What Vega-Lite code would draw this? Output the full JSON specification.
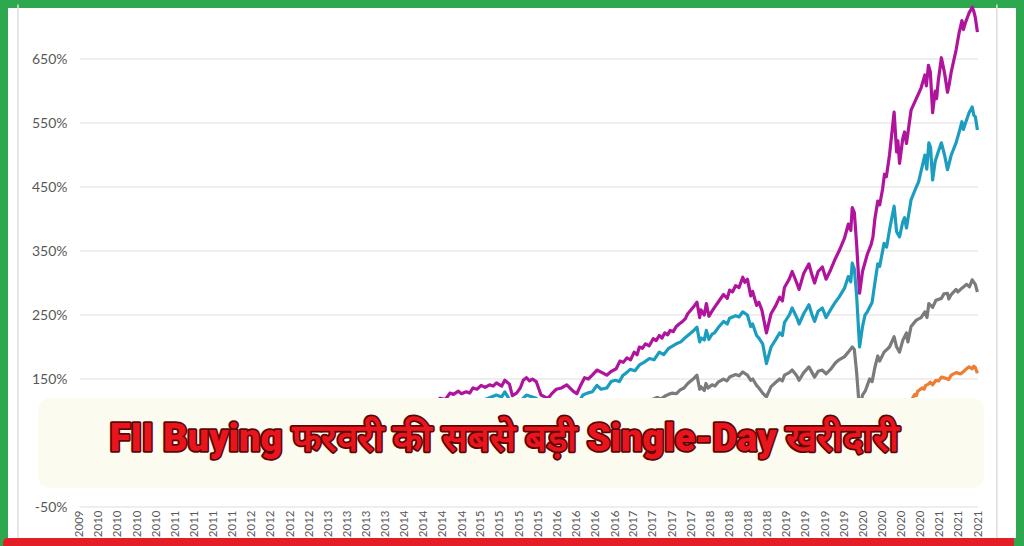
{
  "$schema": "https://vega.github.io/schema/vega-lite/v6.json",
  "width": 1024,
  "height": 546,
  "autosize": {"type": "none"},
  "padding": 0,
  "background": "white",
  "config": {
    "view": {"stroke": "#2ea84e", "strokeWidth": 16, "fill": "white"},
    "font": "Lato"
  },
  "resolve": {"axis": {"x": "independent", "y": "independent"}},
  "datasets": {
    "grid": [{"v": -50}, {"v": 50}, {"v": 150}, {"v": 250}, {"v": 350}, {"v": 450}, {"v": 550}, {"v": 650}],
    "series": [
      {"s":"S4","d":"2010-01-01","v":0},{"s":"S4","d":"2010-04-19","v":4},{"s":"S4","d":"2010-06-13","v":-6},{"s":"S4","d":"2010-08-07","v":-4},{"s":"S4","d":"2010-10-19","v":8},{"s":"S4","d":"2011-01-01","v":12},{"s":"S4","d":"2011-04-19","v":14},{"s":"S4","d":"2011-08-07","v":-4},{"s":"S4","d":"2011-10-19","v":0},{"s":"S4","d":"2012-01-01","v":6},{"s":"S4","d":"2012-04-19","v":12},{"s":"S4","d":"2012-07-01","v":6},{"s":"S4","d":"2012-10-19","v":14},{"s":"S4","d":"2013-01-01","v":18},{"s":"S4","d":"2013-04-19","v":24},{"s":"S4","d":"2013-07-01","v":20},{"s":"S4","d":"2013-10-19","v":28},{"s":"S4","d":"2014-01-01","v":30},{"s":"S4","d":"2014-04-19","v":36},{"s":"S4","d":"2014-08-07","v":40},{"s":"S4","d":"2014-11-25","v":42},{"s":"S4","d":"2015-03-13","v":46},{"s":"S4","d":"2015-07-01","v":44},{"s":"S4","d":"2015-08-25","v":30},{"s":"S4","d":"2015-11-25","v":34},{"s":"S4","d":"2016-02-07","v":22},{"s":"S4","d":"2016-05-25","v":32},{"s":"S4","d":"2016-09-13","v":36},{"s":"S4","d":"2016-11-25","v":40},{"s":"S4","d":"2017-03-13","v":48},{"s":"S4","d":"2017-07-01","v":54},{"s":"S4","d":"2017-10-19","v":60},{"s":"S4","d":"2018-01-19","v":66},{"s":"S4","d":"2018-02-25","v":56},{"s":"S4","d":"2018-07-01","v":60},{"s":"S4","d":"2018-10-01","v":58},{"s":"S4","d":"2018-12-24","v":44},{"s":"S4","d":"2019-04-19","v":56},{"s":"S4","d":"2019-08-07","v":60},{"s":"S4","d":"2019-11-25","v":68},{"s":"S4","d":"2020-02-07","v":72},{"s":"S4","d":"2020-03-13","v":30},{"s":"S4","d":"2020-05-25","v":56},{"s":"S4","d":"2020-08-07","v":78},{"s":"S4","d":"2020-09-13","v":90},{"s":"S4","d":"2020-10-19","v":104},{"s":"S4","d":"2020-11-14","v":116},{"s":"S4","d":"2020-11-25","v":122},{"s":"S4","d":"2020-12-02","v":126},{"s":"S4","d":"2020-12-09","v":124},{"s":"S4","d":"2020-12-16","v":131},{"s":"S4","d":"2020-12-24","v":133},{"s":"S4","d":"2021-01-08","v":136},{"s":"S4","d":"2021-01-15","v":134},{"s":"S4","d":"2021-01-23","v":140},{"s":"S4","d":"2021-02-05","v":142},{"s":"S4","d":"2021-02-14","v":145},{"s":"S4","d":"2021-02-25","v":141},{"s":"S4","d":"2021-03-13","v":148},{"s":"S4","d":"2021-03-25","v":147},{"s":"S4","d":"2021-04-08","v":153},{"s":"S4","d":"2021-04-30","v":151},{"s":"S4","d":"2021-05-12","v":149},{"s":"S4","d":"2021-05-25","v":156},{"s":"S4","d":"2021-06-17","v":160},{"s":"S4","d":"2021-07-08","v":158},{"s":"S4","d":"2021-07-20","v":161},{"s":"S4","d":"2021-07-30","v":164},{"s":"S4","d":"2021-08-18","v":169},{"s":"S4","d":"2021-09-02","v":166},{"s":"S4","d":"2021-09-10","v":170},{"s":"S4","d":"2021-09-17","v":168},{"s":"S4","d":"2021-09-27","v":159},

      {"s":"S3","d":"2010-01-01","v":0},{"s":"S3","d":"2010-04-19","v":6},{"s":"S3","d":"2010-06-13","v":-4},{"s":"S3","d":"2010-08-07","v":-6},{"s":"S3","d":"2010-10-19","v":5},{"s":"S3","d":"2011-01-01","v":10},{"s":"S3","d":"2011-04-19","v":12},{"s":"S3","d":"2011-08-07","v":-8},{"s":"S3","d":"2011-10-19","v":-2},{"s":"S3","d":"2012-01-01","v":4},{"s":"S3","d":"2012-04-01","v":14},{"s":"S3","d":"2012-06-13","v":6},{"s":"S3","d":"2012-09-13","v":16},{"s":"S3","d":"2012-11-25","v":14},{"s":"S3","d":"2013-03-13","v":28},{"s":"S3","d":"2013-07-01","v":34},{"s":"S3","d":"2013-10-19","v":44},{"s":"S3","d":"2014-01-01","v":48},{"s":"S3","d":"2014-04-19","v":54},{"s":"S3","d":"2014-08-07","v":62},{"s":"S3","d":"2014-11-25","v":70},{"s":"S3","d":"2015-03-13","v":78},{"s":"S3","d":"2015-06-13","v":80},{"s":"S3","d":"2015-08-25","v":62},{"s":"S3","d":"2015-11-25","v":70},{"s":"S3","d":"2016-02-07","v":55},{"s":"S3","d":"2016-05-25","v":70},{"s":"S3","d":"2016-08-07","v":75},{"s":"S3","d":"2016-11-25","v":85},{"s":"S3","d":"2017-02-07","v":98},{"s":"S3","d":"2017-04-19","v":108},{"s":"S3","d":"2017-06-13","v":116},{"s":"S3","d":"2017-07-19","v":121},{"s":"S3","d":"2017-08-08","v":119},{"s":"S3","d":"2017-08-25","v":123},{"s":"S3","d":"2017-09-12","v":126},{"s":"S3","d":"2017-10-01","v":128},{"s":"S3","d":"2017-10-20","v":127},{"s":"S3","d":"2017-11-07","v":133},{"s":"S3","d":"2017-11-25","v":136},{"s":"S3","d":"2017-12-13","v":143},{"s":"S3","d":"2018-01-08","v":150},{"s":"S3","d":"2018-01-26","v":156},{"s":"S3","d":"2018-02-08","v":134},{"s":"S3","d":"2018-02-14","v":138},{"s":"S3","d":"2018-03-02","v":132},{"s":"S3","d":"2018-03-10","v":143},{"s":"S3","d":"2018-03-20","v":136},{"s":"S3","d":"2018-04-08","v":141},{"s":"S3","d":"2018-04-22","v":139},{"s":"S3","d":"2018-05-07","v":145},{"s":"S3","d":"2018-06-02","v":150},{"s":"S3","d":"2018-06-18","v":147},{"s":"S3","d":"2018-07-01","v":153},{"s":"S3","d":"2018-07-30","v":157},{"s":"S3","d":"2018-08-15","v":155},{"s":"S3","d":"2018-09-02","v":161},{"s":"S3","d":"2018-09-24","v":156},{"s":"S3","d":"2018-10-10","v":148},{"s":"S3","d":"2018-10-19","v":150},{"s":"S3","d":"2018-11-07","v":140},{"s":"S3","d":"2018-11-18","v":136},{"s":"S3","d":"2018-12-06","v":128},{"s":"S3","d":"2018-12-24","v":122},{"s":"S3","d":"2019-01-15","v":138},{"s":"S3","d":"2019-02-07","v":145},{"s":"S3","d":"2019-02-25","v":150},{"s":"S3","d":"2019-03-10","v":147},{"s":"S3","d":"2019-03-20","v":156},{"s":"S3","d":"2019-04-12","v":160},{"s":"S3","d":"2019-04-26","v":164},{"s":"S3","d":"2019-05-18","v":155},{"s":"S3","d":"2019-05-29","v":148},{"s":"S3","d":"2019-06-20","v":160},{"s":"S3","d":"2019-07-15","v":169},{"s":"S3","d":"2019-07-30","v":160},{"s":"S3","d":"2019-08-11","v":153},{"s":"S3","d":"2019-08-28","v":162},{"s":"S3","d":"2019-09-17","v":164},{"s":"S3","d":"2019-10-05","v":158},{"s":"S3","d":"2019-10-26","v":165},{"s":"S3","d":"2019-11-18","v":175},{"s":"S3","d":"2019-12-06","v":180},{"s":"S3","d":"2020-01-01","v":185},{"s":"S3","d":"2020-01-19","v":192},{"s":"S3","d":"2020-02-07","v":200},{"s":"S3","d":"2020-02-17","v":196},{"s":"S3","d":"2020-02-28","v":160},{"s":"S3","d":"2020-03-13","v":100},{"s":"S3","d":"2020-03-27","v":125},{"s":"S3","d":"2020-04-10","v":132},{"s":"S3","d":"2020-04-19","v":140},{"s":"S3","d":"2020-04-30","v":150},{"s":"S3","d":"2020-05-12","v":146},{"s":"S3","d":"2020-05-25","v":168},{"s":"S3","d":"2020-06-08","v":186},{"s":"S3","d":"2020-06-17","v":178},{"s":"S3","d":"2020-07-08","v":192},{"s":"S3","d":"2020-08-03","v":200},{"s":"S3","d":"2020-08-25","v":216},{"s":"S3","d":"2020-09-06","v":200},{"s":"S3","d":"2020-09-20","v":192},{"s":"S3","d":"2020-10-05","v":210},{"s":"S3","d":"2020-10-23","v":222},{"s":"S3","d":"2020-10-30","v":208},{"s":"S3","d":"2020-11-14","v":232},{"s":"S3","d":"2020-12-09","v":242},{"s":"S3","d":"2021-01-01","v":246},{"s":"S3","d":"2021-01-19","v":255},{"s":"S3","d":"2021-01-29","v":246},{"s":"S3","d":"2021-02-07","v":268},{"s":"S3","d":"2021-02-25","v":262},{"s":"S3","d":"2021-03-13","v":273},{"s":"S3","d":"2021-04-08","v":276},{"s":"S3","d":"2021-04-20","v":283},{"s":"S3","d":"2021-05-07","v":284},{"s":"S3","d":"2021-05-13","v":275},{"s":"S3","d":"2021-05-25","v":282},{"s":"S3","d":"2021-06-17","v":290},{"s":"S3","d":"2021-06-25","v":286},{"s":"S3","d":"2021-07-15","v":292},{"s":"S3","d":"2021-08-07","v":298},{"s":"S3","d":"2021-08-20","v":294},{"s":"S3","d":"2021-09-02","v":305},{"s":"S3","d":"2021-09-17","v":298},{"s":"S3","d":"2021-09-27","v":286},

      {"s":"S2","d":"2010-01-01","v":0},{"s":"S2","d":"2010-04-19","v":10},{"s":"S2","d":"2010-06-13","v":0},{"s":"S2","d":"2010-08-07","v":-2},{"s":"S2","d":"2010-10-19","v":10},{"s":"S2","d":"2011-01-01","v":16},{"s":"S2","d":"2011-04-19","v":20},{"s":"S2","d":"2011-08-07","v":2},{"s":"S2","d":"2011-10-19","v":8},{"s":"S2","d":"2012-01-01","v":14},{"s":"S2","d":"2012-04-01","v":28},{"s":"S2","d":"2012-06-13","v":20},{"s":"S2","d":"2012-09-13","v":32},{"s":"S2","d":"2012-11-25","v":28},{"s":"S2","d":"2013-03-13","v":42},{"s":"S2","d":"2013-07-01","v":52},{"s":"S2","d":"2013-10-19","v":66},{"s":"S2","d":"2014-01-01","v":70},{"s":"S2","d":"2014-04-19","v":78},{"s":"S2","d":"2014-08-07","v":92},{"s":"S2","d":"2014-11-03","v":104},{"s":"S2","d":"2015-02-07","v":112},{"s":"S2","d":"2015-04-19","v":118},{"s":"S2","d":"2015-06-13","v":125},{"s":"S2","d":"2015-07-08","v":122},{"s":"S2","d":"2015-07-23","v":130},{"s":"S2","d":"2015-08-14","v":118},{"s":"S2","d":"2015-09-13","v":108},{"s":"S2","d":"2015-11-03","v":125},{"s":"S2","d":"2015-12-20","v":120},{"s":"S2","d":"2016-02-07","v":100},{"s":"S2","d":"2016-04-19","v":110},{"s":"S2","d":"2016-07-01","v":108},{"s":"S2","d":"2016-07-30","v":125},{"s":"S2","d":"2016-08-20","v":128},{"s":"S2","d":"2016-09-13","v":130},{"s":"S2","d":"2016-10-05","v":140},{"s":"S2","d":"2016-10-25","v":134},{"s":"S2","d":"2016-11-21","v":136},{"s":"S2","d":"2016-12-12","v":146},{"s":"S2","d":"2017-01-01","v":148},{"s":"S2","d":"2017-01-20","v":146},{"s":"S2","d":"2017-02-07","v":156},{"s":"S2","d":"2017-02-24","v":160},{"s":"S2","d":"2017-03-13","v":165},{"s":"S2","d":"2017-04-05","v":163},{"s":"S2","d":"2017-04-26","v":172},{"s":"S2","d":"2017-05-18","v":176},{"s":"S2","d":"2017-06-13","v":182},{"s":"S2","d":"2017-07-05","v":180},{"s":"S2","d":"2017-07-30","v":192},{"s":"S2","d":"2017-08-20","v":188},{"s":"S2","d":"2017-09-13","v":198},{"s":"S2","d":"2017-10-19","v":205},{"s":"S2","d":"2017-11-10","v":208},{"s":"S2","d":"2017-12-02","v":215},{"s":"S2","d":"2018-01-08","v":225},{"s":"S2","d":"2018-01-26","v":231},{"s":"S2","d":"2018-02-08","v":208},{"s":"S2","d":"2018-02-14","v":214},{"s":"S2","d":"2018-03-02","v":211},{"s":"S2","d":"2018-03-12","v":226},{"s":"S2","d":"2018-03-24","v":212},{"s":"S2","d":"2018-04-08","v":220},{"s":"S2","d":"2018-04-20","v":222},{"s":"S2","d":"2018-05-07","v":230},{"s":"S2","d":"2018-06-02","v":240},{"s":"S2","d":"2018-06-20","v":236},{"s":"S2","d":"2018-07-01","v":245},{"s":"S2","d":"2018-07-30","v":249},{"s":"S2","d":"2018-08-15","v":247},{"s":"S2","d":"2018-09-02","v":255},{"s":"S2","d":"2018-09-24","v":250},{"s":"S2","d":"2018-10-10","v":232},{"s":"S2","d":"2018-10-19","v":236},{"s":"S2","d":"2018-11-07","v":218},{"s":"S2","d":"2018-11-18","v":214},{"s":"S2","d":"2018-12-06","v":205},{"s":"S2","d":"2018-12-24","v":174},{"s":"S2","d":"2019-01-15","v":200},{"s":"S2","d":"2019-02-07","v":212},{"s":"S2","d":"2019-02-25","v":222},{"s":"S2","d":"2019-03-10","v":218},{"s":"S2","d":"2019-03-20","v":238},{"s":"S2","d":"2019-04-12","v":250},{"s":"S2","d":"2019-04-26","v":261},{"s":"S2","d":"2019-05-18","v":246},{"s":"S2","d":"2019-05-29","v":236},{"s":"S2","d":"2019-06-20","v":252},{"s":"S2","d":"2019-07-15","v":266},{"s":"S2","d":"2019-07-30","v":250},{"s":"S2","d":"2019-08-11","v":240},{"s":"S2","d":"2019-08-28","v":256},{"s":"S2","d":"2019-09-17","v":261},{"s":"S2","d":"2019-10-05","v":246},{"s":"S2","d":"2019-10-26","v":258},{"s":"S2","d":"2019-11-18","v":270},{"s":"S2","d":"2019-12-06","v":278},{"s":"S2","d":"2020-01-01","v":292},{"s":"S2","d":"2020-01-19","v":310},{"s":"S2","d":"2020-01-31","v":302},{"s":"S2","d":"2020-02-07","v":331},{"s":"S2","d":"2020-02-17","v":322},{"s":"S2","d":"2020-02-28","v":280},{"s":"S2","d":"2020-03-13","v":200},{"s":"S2","d":"2020-03-27","v":232},{"s":"S2","d":"2020-04-08","v":250},{"s":"S2","d":"2020-04-19","v":255},{"s":"S2","d":"2020-04-30","v":262},{"s":"S2","d":"2020-05-12","v":270},{"s":"S2","d":"2020-05-25","v":300},{"s":"S2","d":"2020-06-08","v":330},{"s":"S2","d":"2020-06-17","v":326},{"s":"S2","d":"2020-07-08","v":362},{"s":"S2","d":"2020-07-20","v":356},{"s":"S2","d":"2020-08-03","v":383},{"s":"S2","d":"2020-08-25","v":420},{"s":"S2","d":"2020-09-06","v":380},{"s":"S2","d":"2020-09-20","v":372},{"s":"S2","d":"2020-10-05","v":395},{"s":"S2","d":"2020-10-14","v":402},{"s":"S2","d":"2020-10-23","v":386},{"s":"S2","d":"2020-11-14","v":430},{"s":"S2","d":"2020-12-09","v":450},{"s":"S2","d":"2020-12-20","v":458},{"s":"S2","d":"2021-01-01","v":475},{"s":"S2","d":"2021-01-19","v":500},{"s":"S2","d":"2021-01-28","v":478},{"s":"S2","d":"2021-02-07","v":519},{"s":"S2","d":"2021-02-15","v":512},{"s":"S2","d":"2021-02-25","v":461},{"s":"S2","d":"2021-03-09","v":490},{"s":"S2","d":"2021-03-24","v":505},{"s":"S2","d":"2021-04-08","v":519},{"s":"S2","d":"2021-04-23","v":500},{"s":"S2","d":"2021-05-07","v":477},{"s":"S2","d":"2021-05-25","v":500},{"s":"S2","d":"2021-06-17","v":519},{"s":"S2","d":"2021-07-01","v":535},{"s":"S2","d":"2021-07-15","v":552},{"s":"S2","d":"2021-07-22","v":540},{"s":"S2","d":"2021-07-30","v":548},{"s":"S2","d":"2021-08-18","v":566},{"s":"S2","d":"2021-09-02","v":575},{"s":"S2","d":"2021-09-10","v":562},{"s":"S2","d":"2021-09-17","v":560},{"s":"S2","d":"2021-09-27","v":539},

      {"s":"S1","d":"2010-01-01","v":0},{"s":"S1","d":"2010-02-25","v":8},{"s":"S1","d":"2010-04-19","v":14},{"s":"S1","d":"2010-05-25","v":2},{"s":"S1","d":"2010-07-19","v":0},{"s":"S1","d":"2010-10-01","v":15},{"s":"S1","d":"2011-01-01","v":22},{"s":"S1","d":"2011-04-19","v":27},{"s":"S1","d":"2011-07-19","v":20},{"s":"S1","d":"2011-08-25","v":5},{"s":"S1","d":"2011-11-07","v":12},{"s":"S1","d":"2012-01-01","v":18},{"s":"S1","d":"2012-04-01","v":38},{"s":"S1","d":"2012-05-25","v":28},{"s":"S1","d":"2012-09-13","v":42},{"s":"S1","d":"2012-11-25","v":36},{"s":"S1","d":"2013-02-07","v":48},{"s":"S1","d":"2013-05-25","v":58},{"s":"S1","d":"2013-08-07","v":62},{"s":"S1","d":"2013-11-25","v":80},{"s":"S1","d":"2014-02-07","v":78},{"s":"S1","d":"2014-04-19","v":90},{"s":"S1","d":"2014-07-01","v":100},{"s":"S1","d":"2014-08-25","v":112},{"s":"S1","d":"2014-09-17","v":120},{"s":"S1","d":"2014-10-12","v":118},{"s":"S1","d":"2014-11-03","v":128},{"s":"S1","d":"2014-11-20","v":126},{"s":"S1","d":"2014-12-13","v":131},{"s":"S1","d":"2014-12-28","v":127},{"s":"S1","d":"2015-01-19","v":130},{"s":"S1","d":"2015-02-05","v":128},{"s":"S1","d":"2015-02-21","v":136},{"s":"S1","d":"2015-03-12","v":134},{"s":"S1","d":"2015-04-01","v":140},{"s":"S1","d":"2015-04-20","v":137},{"s":"S1","d":"2015-05-11","v":141},{"s":"S1","d":"2015-05-28","v":139},{"s":"S1","d":"2015-06-13","v":144},{"s":"S1","d":"2015-07-08","v":139},{"s":"S1","d":"2015-07-23","v":148},{"s":"S1","d":"2015-08-14","v":142},{"s":"S1","d":"2015-08-28","v":124},{"s":"S1","d":"2015-09-17","v":128},{"s":"S1","d":"2015-10-05","v":136},{"s":"S1","d":"2015-10-19","v":148},{"s":"S1","d":"2015-11-03","v":152},{"s":"S1","d":"2015-11-18","v":147},{"s":"S1","d":"2015-12-02","v":150},{"s":"S1","d":"2015-12-20","v":146},{"s":"S1","d":"2016-01-12","v":125},{"s":"S1","d":"2016-01-30","v":122},{"s":"S1","d":"2016-02-15","v":120},{"s":"S1","d":"2016-03-06","v":128},{"s":"S1","d":"2016-03-25","v":134},{"s":"S1","d":"2016-04-19","v":136},{"s":"S1","d":"2016-05-14","v":141},{"s":"S1","d":"2016-06-13","v":131},{"s":"S1","d":"2016-07-01","v":127},{"s":"S1","d":"2016-07-19","v":140},{"s":"S1","d":"2016-08-07","v":152},{"s":"S1","d":"2016-08-25","v":150},{"s":"S1","d":"2016-09-13","v":156},{"s":"S1","d":"2016-10-05","v":164},{"s":"S1","d":"2016-10-30","v":160},{"s":"S1","d":"2016-11-21","v":156},{"s":"S1","d":"2016-12-13","v":162},{"s":"S1","d":"2017-01-05","v":166},{"s":"S1","d":"2017-01-23","v":178},{"s":"S1","d":"2017-02-08","v":176},{"s":"S1","d":"2017-02-25","v":183},{"s":"S1","d":"2017-03-15","v":180},{"s":"S1","d":"2017-04-01","v":192},{"s":"S1","d":"2017-04-15","v":188},{"s":"S1","d":"2017-04-26","v":200},{"s":"S1","d":"2017-05-10","v":198},{"s":"S1","d":"2017-05-25","v":205},{"s":"S1","d":"2017-06-12","v":202},{"s":"S1","d":"2017-07-01","v":213},{"s":"S1","d":"2017-07-15","v":210},{"s":"S1","d":"2017-07-30","v":218},{"s":"S1","d":"2017-08-12","v":214},{"s":"S1","d":"2017-08-25","v":222},{"s":"S1","d":"2017-09-08","v":219},{"s":"S1","d":"2017-09-20","v":226},{"s":"S1","d":"2017-10-05","v":224},{"s":"S1","d":"2017-10-19","v":232},{"s":"S1","d":"2017-11-02","v":236},{"s":"S1","d":"2017-11-18","v":240},{"s":"S1","d":"2017-12-01","v":244},{"s":"S1","d":"2017-12-13","v":252},{"s":"S1","d":"2018-01-08","v":262},{"s":"S1","d":"2018-01-26","v":270},{"s":"S1","d":"2018-02-08","v":246},{"s":"S1","d":"2018-02-14","v":258},{"s":"S1","d":"2018-03-02","v":250},{"s":"S1","d":"2018-03-12","v":268},{"s":"S1","d":"2018-03-24","v":248},{"s":"S1","d":"2018-04-08","v":256},{"s":"S1","d":"2018-04-20","v":262},{"s":"S1","d":"2018-05-07","v":270},{"s":"S1","d":"2018-06-02","v":282},{"s":"S1","d":"2018-06-20","v":276},{"s":"S1","d":"2018-07-01","v":289},{"s":"S1","d":"2018-07-15","v":286},{"s":"S1","d":"2018-07-30","v":296},{"s":"S1","d":"2018-08-15","v":293},{"s":"S1","d":"2018-09-02","v":309},{"s":"S1","d":"2018-09-12","v":301},{"s":"S1","d":"2018-09-24","v":306},{"s":"S1","d":"2018-10-10","v":280},{"s":"S1","d":"2018-10-19","v":287},{"s":"S1","d":"2018-11-07","v":265},{"s":"S1","d":"2018-11-18","v":270},{"s":"S1","d":"2018-12-02","v":258},{"s":"S1","d":"2018-12-24","v":222},{"s":"S1","d":"2019-01-15","v":252},{"s":"S1","d":"2019-02-07","v":265},{"s":"S1","d":"2019-02-25","v":278},{"s":"S1","d":"2019-03-10","v":272},{"s":"S1","d":"2019-03-20","v":293},{"s":"S1","d":"2019-04-12","v":306},{"s":"S1","d":"2019-04-26","v":318},{"s":"S1","d":"2019-05-18","v":300},{"s":"S1","d":"2019-05-29","v":290},{"s":"S1","d":"2019-06-20","v":315},{"s":"S1","d":"2019-07-15","v":330},{"s":"S1","d":"2019-07-30","v":312},{"s":"S1","d":"2019-08-11","v":300},{"s":"S1","d":"2019-08-28","v":318},{"s":"S1","d":"2019-09-17","v":325},{"s":"S1","d":"2019-10-05","v":306},{"s":"S1","d":"2019-10-26","v":320},{"s":"S1","d":"2019-11-18","v":338},{"s":"S1","d":"2019-12-06","v":350},{"s":"S1","d":"2020-01-01","v":370},{"s":"S1","d":"2020-01-19","v":392},{"s":"S1","d":"2020-01-31","v":382},{"s":"S1","d":"2020-02-07","v":418},{"s":"S1","d":"2020-02-17","v":410},{"s":"S1","d":"2020-02-28","v":360},{"s":"S1","d":"2020-03-13","v":284},{"s":"S1","d":"2020-03-27","v":318},{"s":"S1","d":"2020-04-08","v":332},{"s":"S1","d":"2020-04-19","v":345},{"s":"S1","d":"2020-05-07","v":360},{"s":"S1","d":"2020-05-16","v":372},{"s":"S1","d":"2020-05-25","v":400},{"s":"S1","d":"2020-06-08","v":428},{"s":"S1","d":"2020-06-17","v":422},{"s":"S1","d":"2020-07-01","v":447},{"s":"S1","d":"2020-07-10","v":470},{"s":"S1","d":"2020-07-19","v":466},{"s":"S1","d":"2020-08-03","v":500},{"s":"S1","d":"2020-08-25","v":567},{"s":"S1","d":"2020-09-06","v":505},{"s":"S1","d":"2020-09-12","v":522},{"s":"S1","d":"2020-09-20","v":487},{"s":"S1","d":"2020-10-05","v":525},{"s":"S1","d":"2020-10-14","v":536},{"s":"S1","d":"2020-10-23","v":518},{"s":"S1","d":"2020-11-14","v":570},{"s":"S1","d":"2020-12-09","v":588},{"s":"S1","d":"2020-12-20","v":596},{"s":"S1","d":"2021-01-01","v":605},{"s":"S1","d":"2021-01-19","v":625},{"s":"S1","d":"2021-01-26","v":608},{"s":"S1","d":"2021-02-05","v":640},{"s":"S1","d":"2021-02-14","v":630},{"s":"S1","d":"2021-02-25","v":566},{"s":"S1","d":"2021-03-09","v":600},{"s":"S1","d":"2021-03-16","v":588},{"s":"S1","d":"2021-03-24","v":616},{"s":"S1","d":"2021-04-08","v":652},{"s":"S1","d":"2021-04-23","v":628},{"s":"S1","d":"2021-05-07","v":598},{"s":"S1","d":"2021-05-15","v":610},{"s":"S1","d":"2021-05-25","v":630},{"s":"S1","d":"2021-06-17","v":664},{"s":"S1","d":"2021-07-01","v":690},{"s":"S1","d":"2021-07-15","v":710},{"s":"S1","d":"2021-07-22","v":696},{"s":"S1","d":"2021-07-30","v":705},{"s":"S1","d":"2021-08-18","v":722},{"s":"S1","d":"2021-09-02","v":731},{"s":"S1","d":"2021-09-10","v":724},{"s":"S1","d":"2021-09-17","v":715},{"s":"S1","d":"2021-09-27","v":692}
    ]
  },
  "layer": [
    {
      "data": {"name": "grid"},
      "mark": {"type": "rule", "color": "#dedede", "strokeWidth": 1.2},
      "encoding": {
        "y": {"field": "v", "type": "quantitative", "axis": null},
        "x": {"datum": {"year": 2009, "month": 12, "date": 31}, "type": "temporal", "axis": null},
        "x2": {"datum": {"year": 2021, "month": 9, "date": 30}}
      }
    },
    {
      "data": {"values": [{}]},
      "mark": {"type": "rule", "color": "#dedede", "strokeWidth": 1.5},
      "encoding": {
        "x": {"datum": {"year": 2009, "month": 3, "date": 10}, "type": "temporal", "axis": null},
        "y": {"datum": -109, "type": "quantitative", "axis": null},
        "y2": {"datum": 735}
      }
    },
    {
      "data": {"values": [{}]},
      "mark": {"type": "rule", "color": "#dedede", "strokeWidth": 1.5},
      "encoding": {
        "x": {"datum": {"year": 2021, "month": 12, "date": 29}, "type": "temporal", "axis": null},
        "y": {"datum": -109, "type": "quantitative", "axis": null},
        "y2": {"datum": 735}
      }
    },
    {
      "data": {"name": "series"},
      "mark": {"type": "line", "strokeWidth": 3.2, "strokeJoin": "round"},
      "encoding": {
        "x": {
          "field": "d", "type": "temporal",
          "scale": {"domain": [{"year": 2008, "month": 12, "date": 14, "hours": 3}, {"year": 2022, "month": 5, "date": 7, "hours": 14}], "nice": false},
          "axis": {
            "orient": "bottom", "offset": -39, "title": null, "domain": false, "ticks": false, "grid": false,
            "labelAngle": -90, "labelFontSize": 11.5, "labelColor": "#595959", "labelPadding": 3,
            "labelOverlap": false, "labelFlush": false, "labelBound": false, "zindex": 0,
            "format": "%Y",
            "values": [
              {"year": 2009, "month": 12, "date": 31},
              {"year": 2010, "month": 3, "date": 31}, {"year": 2010, "month": 6, "date": 30}, {"year": 2010, "month": 9, "date": 30}, {"year": 2010, "month": 12, "date": 31},
              {"year": 2011, "month": 3, "date": 31}, {"year": 2011, "month": 6, "date": 30}, {"year": 2011, "month": 9, "date": 30}, {"year": 2011, "month": 12, "date": 31},
              {"year": 2012, "month": 3, "date": 31}, {"year": 2012, "month": 6, "date": 30}, {"year": 2012, "month": 9, "date": 30}, {"year": 2012, "month": 12, "date": 31},
              {"year": 2013, "month": 3, "date": 31}, {"year": 2013, "month": 6, "date": 30}, {"year": 2013, "month": 9, "date": 30}, {"year": 2013, "month": 12, "date": 31},
              {"year": 2014, "month": 3, "date": 31}, {"year": 2014, "month": 6, "date": 30}, {"year": 2014, "month": 9, "date": 30}, {"year": 2014, "month": 12, "date": 31},
              {"year": 2015, "month": 3, "date": 31}, {"year": 2015, "month": 6, "date": 30}, {"year": 2015, "month": 9, "date": 30}, {"year": 2015, "month": 12, "date": 31},
              {"year": 2016, "month": 3, "date": 31}, {"year": 2016, "month": 6, "date": 30}, {"year": 2016, "month": 9, "date": 30}, {"year": 2016, "month": 12, "date": 31},
              {"year": 2017, "month": 3, "date": 31}, {"year": 2017, "month": 6, "date": 30}, {"year": 2017, "month": 9, "date": 30}, {"year": 2017, "month": 12, "date": 31},
              {"year": 2018, "month": 3, "date": 31}, {"year": 2018, "month": 6, "date": 30}, {"year": 2018, "month": 9, "date": 30}, {"year": 2018, "month": 12, "date": 31},
              {"year": 2019, "month": 3, "date": 31}, {"year": 2019, "month": 6, "date": 30}, {"year": 2019, "month": 9, "date": 30}, {"year": 2019, "month": 12, "date": 31},
              {"year": 2020, "month": 3, "date": 31}, {"year": 2020, "month": 6, "date": 30}, {"year": 2020, "month": 9, "date": 30}, {"year": 2020, "month": 12, "date": 31},
              {"year": 2021, "month": 3, "date": 31}, {"year": 2021, "month": 6, "date": 30}, {"year": 2021, "month": 9, "date": 30}
            ]
          }
        },
        "y": {
          "field": "v", "type": "quantitative",
          "scale": {"domain": [-110.9, 742.2], "nice": false, "zero": false},
          "axis": {
            "orient": "left", "offset": -80, "title": null, "domain": false, "ticks": false, "grid": false,
            "values": [-50, 50, 150, 250, 350, 450, 550, 650],
            "labelExpr": "datum.value + '%'",
            "labelFontSize": 14, "labelColor": "#595959", "labelPadding": 13, "zindex": 0
          }
        },
        "color": {
          "field": "s", "type": "nominal", "legend": null,
          "scale": {"domain": ["S1", "S2", "S3", "S4"], "range": ["#b0139c", "#1b9dc0", "#7b7b7b", "#ee7d31"]}
        }
      }
    },
    {
      "data": {"values": [{}]},
      "mark": {"type": "rect", "fill": "#fbfcef", "cornerRadius": 12},
      "encoding": {
        "x": {"datum": {"year": 2009, "month": 6, "date": 14}, "type": "temporal", "axis": null},
        "x2": {"datum": {"year": 2021, "month": 10, "date": 29}},
        "y": {"datum": -20.3, "type": "quantitative", "axis": null},
        "y2": {"datum": 120.3}
      }
    },
    {
      "data": {"values": [{}]},
      "mark": {"type": "text", "text": "FII Buying फरवरी की सबसे बड़ी Single-Day खरीदारी", "font": "Roboto", "fontSize": 38, "fontWeight": 900, "align": "center", "baseline": "middle", "fill": "#5a0606", "stroke": "#5a0606", "strokeWidth": 3.5, "strokeJoin": "round"},
      "encoding": {
        "x": {"datum": {"year": 2015, "month": 7, "date": 21}, "type": "temporal", "axis": null},
        "y": {"datum": 54.7, "type": "quantitative", "axis": null}
      }
    },
    {
      "data": {"values": [{}]},
      "mark": {"type": "text", "text": "FII Buying फरवरी की सबसे बड़ी Single-Day खरीदारी", "font": "Roboto", "fontSize": 38, "fontWeight": 900, "align": "center", "baseline": "middle", "fill": "#e8151d"},
      "encoding": {
        "x": {"datum": {"year": 2015, "month": 7, "date": 21}, "type": "temporal", "axis": null},
        "y": {"datum": 54.7, "type": "quantitative", "axis": null}
      }
    },
    {
      "data": {"values": [{}]},
      "mark": {"type": "rect", "fill": "#e31e26", "cornerRadiusTopLeft": 10},
      "encoding": {
        "x": {"datum": {"year": 2008, "month": 12, "date": 29}, "type": "temporal", "axis": null},
        "x2": {"datum": {"year": 2022, "month": 3, "date": 20}},
        "y": {"datum": -110.9, "type": "quantitative", "axis": null},
        "y2": {"datum": -98.4}
      }
    }
  ]
}
